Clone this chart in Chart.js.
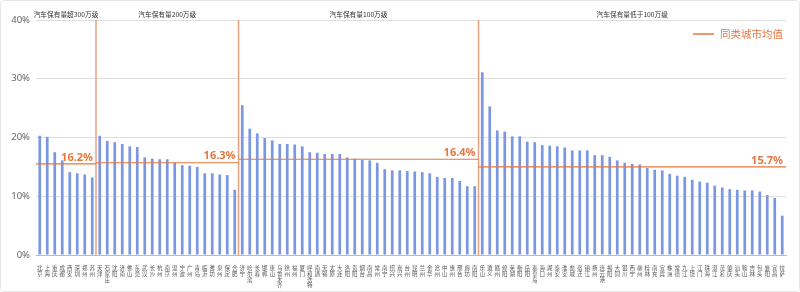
<!DOCTYPE html>
<html>
<head>
<meta charset="utf-8">
<script src="https://cdn.jsdelivr.net/npm/chart.js@4.4.1/dist/chart.umd.min.js"></script>
<style>
  html, body { margin: 0; padding: 0; background: #fff; }
  #wrap { position: relative; width: 800px; height: 292px; box-sizing: border-box; border: 1px solid #e6e6e6; border-radius: 4px; }
  canvas { display: block; }
</style>
</head>
<body>
<div id="wrap"><canvas id="chart" width="798" height="290"></canvas></div>
<script>
const groupNames = ["汽车保有量超300万级", "汽车保有量200万级", "汽车保有量100万级", "汽车保有量低于100万级"];
const groupSizes = [8, 19, 32, 41];
const groupAvgText = ["16.2%", "16.3%", "16.4%", "15.7%"];
const groupAvgLine = [15.5, 15.7, 16.3, 15.0];

const cities = [
  "北京", "上海", "重庆", "成都", "西安", "深圳", "郑州", "苏州",
  "天津", "石家庄", "沈阳", "济南", "佛山", "东莞", "武汉", "长沙", "杭州", "南京",
  "温州", "宁波", "广州", "青岛", "临沂", "潍坊", "泉州", "保定", "合肥",
  "济宁", "哈尔滨", "长春", "邯郸", "唐山", "乌鲁木齐", "徐州", "福州", "厦门", "呼和浩特",
  "南通", "无锡", "太原", "大连", "洛阳", "贵阳", "烟台", "南昌", "常州", "南宁",
  "绍兴", "嘉兴", "台州", "昆明", "兰州", "金华", "沧州", "中山", "惠州", "邢台",
  "廊坊", "南阳",
  "乐山", "遵义", "赣州", "绵阳", "芜湖", "衡阳", "岳阳", "秦皇岛", "海口", "湖州",
  "泰安", "淮安", "盐城", "宿迁", "镇江", "扬州", "连云港", "揭阳", "大同", "银川",
  "西宁", "柳州", "桂林", "南充", "宜宾", "株洲", "常德", "九江", "上饶", "江门",
  "珠海", "湛江", "茂名", "肇庆", "汕头", "鞍山", "吉林", "包头", "襄阳", "宜昌",
  "拉萨"
];

const shares = [
  20.3, 20.1, 17.5, 16.1, 14.1, 13.9, 13.7, 13.2,
  20.3, 19.4, 19.2, 18.9, 18.5, 18.4, 16.6, 16.4, 16.3, 16.3,
  15.7, 15.3, 15.2, 15.0, 13.9, 13.9, 13.7, 13.6, 11.1,
  25.5, 21.5, 20.7, 19.9, 19.5, 18.9, 18.9, 18.8, 18.5, 17.5,
  17.4, 17.2, 17.2, 17.2, 16.6, 16.4, 16.2, 16.1, 15.7, 14.6,
  14.4, 14.4, 14.3, 14.2, 14.1, 13.9, 13.3, 13.1, 13.1, 12.6,
  11.7, 11.7,
  31.1, 25.3, 21.2, 21.0, 20.2, 20.2, 19.3, 19.2, 18.7, 18.6,
  18.5, 18.3, 17.8, 17.8, 17.8, 17.0, 17.0, 16.7, 16.1, 15.7,
  15.5, 15.4, 14.8, 14.5, 14.4, 13.8, 13.5, 13.3, 12.8, 12.5,
  12.3, 11.8, 11.5, 11.2, 11.1, 11.0, 11.0, 10.8, 10.2, 9.7,
  6.7
];

const yTicks = [0, 10, 20, 30, 40];

const ORANGE = "#e8763f";
const DIVIDER = "#e9a27e";
const BLUE = "#7b97e4";

const groupPlugin = {
  id: "groups",
  afterDatasetsDraw(chart) {
    const { ctx, chartArea, scales } = chart;
    const x = scales.x, y = scales.y;
    const bounds = [chartArea.left];
    let idx = 0;
    groupSizes.forEach((n, i) => {
      idx += n;
      if (i < groupSizes.length - 1) {
        bounds.push((x.getPixelForValue(idx - 1) + x.getPixelForValue(idx)) / 2);
      } else {
        bounds.push(chartArea.right);
      }
    });

    ctx.save();
    // dividers
    ctx.strokeStyle = DIVIDER;
    ctx.lineWidth = 1.5;
    for (let i = 1; i < bounds.length - 1; i++) {
      ctx.beginPath();
      ctx.moveTo(bounds[i], chartArea.top);
      ctx.lineTo(bounds[i], chartArea.bottom);
      ctx.stroke();
    }
    // average lines + labels
    groupAvgLine.forEach((v, i) => {
      const py = y.getPixelForValue(v);
      ctx.strokeStyle = ORANGE;
      ctx.lineWidth = 1.2;
      ctx.beginPath();
      ctx.moveTo(bounds[i], py);
      ctx.lineTo(bounds[i + 1], py);
      ctx.stroke();
      ctx.fillStyle = ORANGE;
      ctx.font = "bold 11px 'Noto Sans', sans-serif";
      ctx.textAlign = "right";
      ctx.textBaseline = "bottom";
      ctx.fillText(groupAvgText[i], bounds[i + 1] - 3, py - 1);
    });
    // group titles
    ctx.fillStyle = "#333";
    ctx.font = "6.7px 'Noto Sans CJK SC', sans-serif";
    ctx.textAlign = "center";
    ctx.textBaseline = "middle";
    groupNames.forEach((t, i) => {
      ctx.fillText(t, (bounds[i] + bounds[i + 1]) / 2, chartArea.top - 6);
    });
    // legend
    ctx.strokeStyle = ORANGE;
    ctx.lineWidth = 1.5;
    ctx.beginPath();
    ctx.moveTo(692, 33);
    ctx.lineTo(713, 33);
    ctx.stroke();
    ctx.fillStyle = ORANGE;
    ctx.font = "10.5px 'Noto Sans CJK SC', sans-serif";
    ctx.textAlign = "left";
    ctx.fillText("同类城市均值", 719, 33);
    ctx.restore();
  }
};

new Chart(document.getElementById("chart"), {
  type: "bar",
  data: {
    labels: cities.map((c) => c.split("")),
    datasets: [
      {
        label: "占比",
        data: shares,
        backgroundColor: BLUE,
        barPercentage: 0.36,
        categoryPercentage: 1,
      },
    ],
  },
  options: {
    responsive: false,
    animation: false,
    layout: { padding: { top: 19, right: 13, left: 5, bottom: 0 } },
    plugins: { legend: { display: false }, tooltip: { enabled: false } },
    scales: {
      x: {
        grid: { display: false },
        border: { color: "#bbb" },
        ticks: {
          autoSkip: false,
          maxRotation: 0,
          minRotation: 0,
          padding: 2,
          color: "#555",
          font: { size: 5.5, lineHeight: 1.05, family: "'Noto Sans CJK SC', sans-serif" },
        },
        afterFit(scale) { scale.height = 36; },
      },
      y: {
        min: 0,
        max: 40,
        afterBuildTicks(scale) { scale.ticks = yTicks.map((v) => ({ value: v })); },
        grid: { color: "#dedede", drawTicks: false },
        border: { display: false },
        ticks: {
          padding: 6,
          color: "#666",
          font: { size: 9.5, family: "'Noto Sans', sans-serif" },
          callback: (v) => v + "%",
        },
        afterFit(scale) { scale.width = 30; },
      },
    },
  },
  plugins: [groupPlugin],
});
</script>
</body>
</html>
